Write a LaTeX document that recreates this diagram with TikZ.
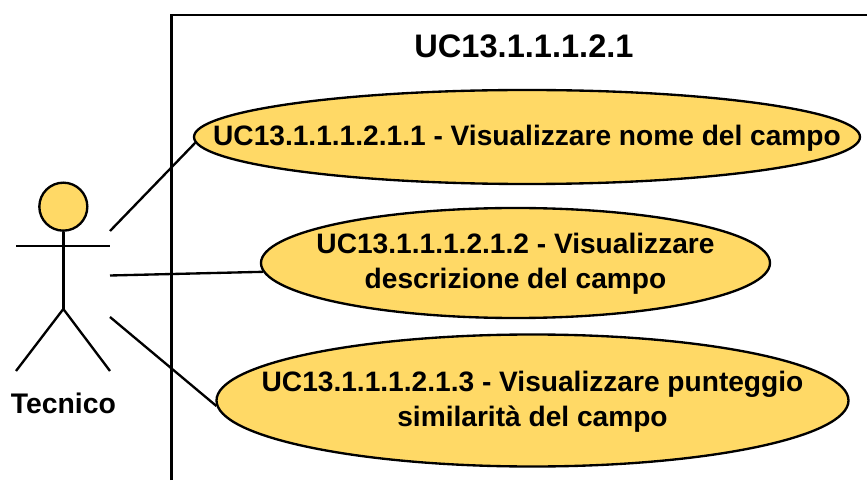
\documentclass[tikz,border=0pt]{standalone}
\usepackage{fontspec}
\setmainfont{Liberation Sans}
\usepackage{xcolor}
\usepackage{tikz}
\usetikzlibrary{shapes.geometric}
\definecolor{ucfill}{RGB}{255,217,102}
\newcommand{\uctext}[1]{\makebox[0pt]{\raisebox{-1.2pt}[\height][\depth]{\begin{tabular}{@{}c@{}}#1\end{tabular}}}}
\tikzset{
  umlline/.style={draw=black,line width=2pt},
  usecase/.style={shape=ellipse,umlline,fill=ucfill,inner sep=0pt,font=\fontsize{24}{29.9}\selectfont\bfseries},
  actorhead/.style={shape=circle,umlline,fill=ucfill,inner sep=0pt,minimum size=1.44cm},
  caption/.style={inner sep=0pt,font=\fontsize{24.2}{29.9}\selectfont\bfseries}
}

\begin{document}
\begin{tikzpicture}
\useasboundingbox (0,0) rectangle (26.01,14.4);

\coordinate(framebottom) at (5.145,0);
\coordinate(frameright) at (26.01,13.95);
\draw[umlline] (framebottom) |- (frameright);
\node(title) at (15.72,13.02)[caption,font=\fontsize{27.8}{32}\selectfont\bfseries] {UC13.1.1.1.2.1};

\node(head) at (1.9,8.2)[actorhead] {};
\coordinate(armleft) at (0.48,7.02);
\coordinate(armright) at (3.3,7.02);
\coordinate(hip) at (1.9,5.13);
\coordinate(footleft) at (0.48,3.27);
\coordinate(footright) at (3.3,3.27);
\node(tecnico) at (1.9,2.3)[caption] {Tecnico};

\coordinate(linkone) at (3.3,7.47);
\coordinate(linktwo) at (3.3,6.135);
\coordinate(linkthree) at (3.3,4.89);

\node(uc1) at (15.81,10.29)[usecase,minimum width=19.98cm,minimum height=2.82cm]
  {\uctext{UC13.1.1.1.2.1.1 - Visualizzare nome del campo}};
\node(uc2) at (15.465,6.51)[usecase,minimum width=15.27cm,minimum height=3.3cm]
  {\uctext{UC13.1.1.1.2.1.2 - Visualizzare\\descrizione del campo}};
\node(uc3) at (15.975,2.385)[usecase,minimum width=18.96cm,minimum height=3.96cm]
  {\uctext{UC13.1.1.1.2.1.3 - Visualizzare punteggio\\similarità del campo}};

\draw[umlline] (head) -- (hip);
\draw[umlline] (armleft) -- (armright);
\draw[umlline] (footleft) -- (hip) -- (footright);

\path [umlline]
  (linkone)      edge      (uc1.181.9)
  (linktwo)      edge      (uc2.182.6)
  (linkthree)    edge      (uc3.181.8);

\end{tikzpicture}
\end{document}
